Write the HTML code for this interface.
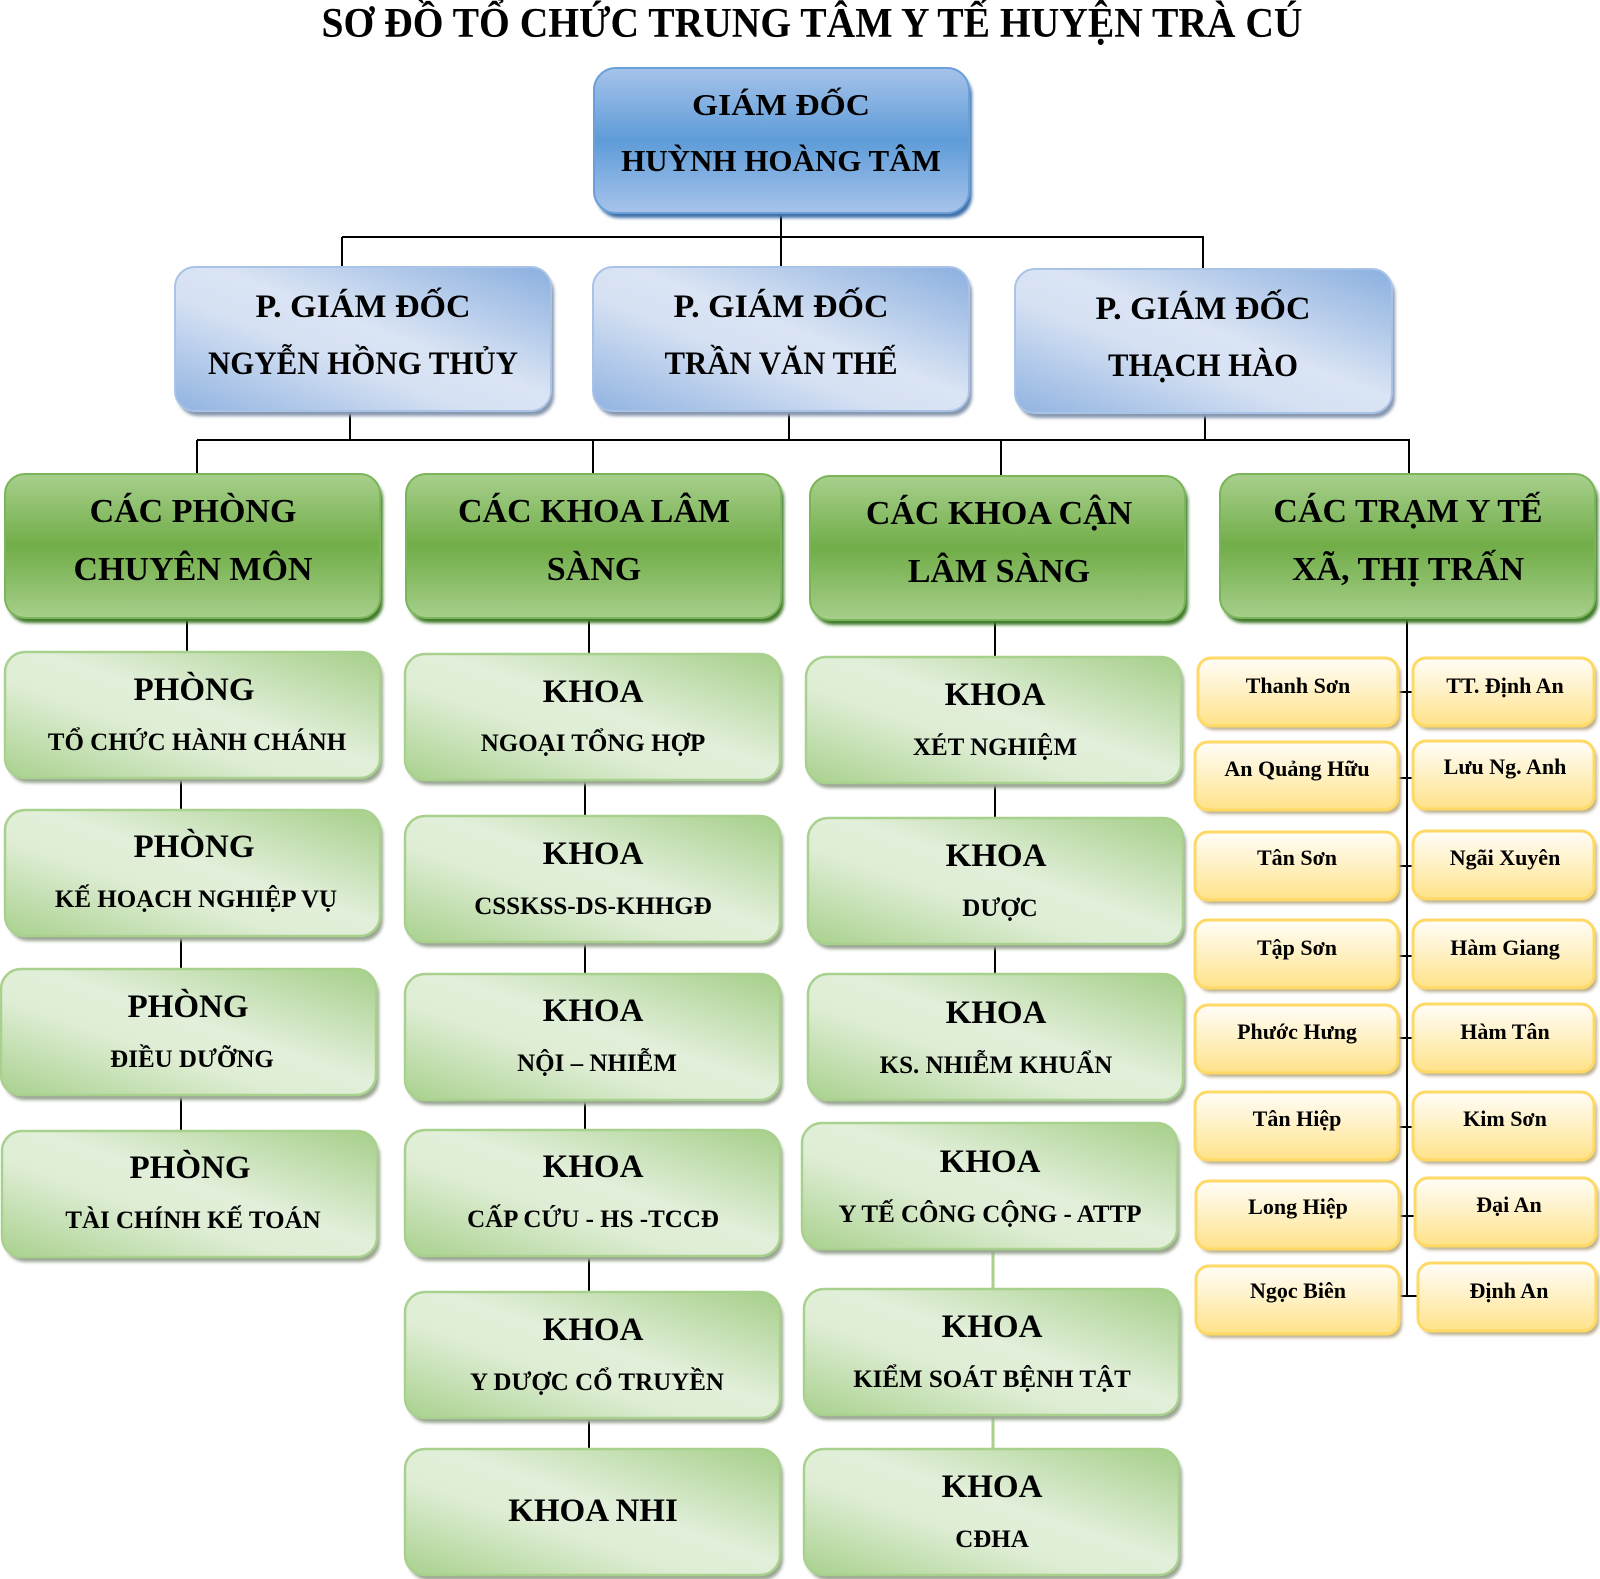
<!DOCTYPE html>
<html>
<head>
<meta charset="utf-8">
<style>
html,body{margin:0;padding:0;background:#fff;}
svg{display:block;}
text{font-family:"Liberation Serif","Times New Roman",serif;font-weight:bold;fill:#000;text-anchor:middle;}
</style>
</head>
<body>
<svg width="1600" height="1579" viewBox="0 0 1600 1579" xmlns="http://www.w3.org/2000/svg">
<defs>
  <linearGradient id="gBlue" x1="0" y1="0" x2="0" y2="1">
    <stop offset="0" stop-color="#a6c3ea"/>
    <stop offset="0.5" stop-color="#5e9cd8"/>
    <stop offset="1" stop-color="#a7c3ea"/>
  </linearGradient>
  <linearGradient id="gPGD" x1="1" y1="0" x2="0" y2="1">
    <stop offset="0" stop-color="#8aafdf"/>
    <stop offset="0.45" stop-color="#dae4f4"/>
    <stop offset="0.6" stop-color="#d6e1f3"/>
    <stop offset="1" stop-color="#90b3e1"/>
  </linearGradient>
  <linearGradient id="gGH" x1="0" y1="0" x2="0" y2="1">
    <stop offset="0" stop-color="#a8d08d"/>
    <stop offset="0.5" stop-color="#71ad48"/>
    <stop offset="1" stop-color="#a6cf8b"/>
  </linearGradient>
  <linearGradient id="gGL" x1="1" y1="0" x2="0" y2="1">
    <stop offset="0" stop-color="#a6cf8a"/>
    <stop offset="0.45" stop-color="#e2efda"/>
    <stop offset="0.62" stop-color="#deedd4"/>
    <stop offset="1" stop-color="#a9d18e"/>
  </linearGradient>
  <linearGradient id="gY" x1="0" y1="0" x2="0" y2="1">
    <stop offset="0" stop-color="#fffdf8"/>
    <stop offset="0.45" stop-color="#fff2c9"/>
    <stop offset="1" stop-color="#ffe288"/>
  </linearGradient>
  <filter id="blur" x="-5%" y="-5%" width="110%" height="115%">
    <feGaussianBlur stdDeviation="1.5"/>
  </filter>
</defs>

<!-- Title -->
<text x="812" y="37" font-size="42" textLength="981" lengthAdjust="spacingAndGlyphs">SƠ ĐỒ TỔ CHỨC TRUNG TÂM Y TẾ HUYỆN TRÀ CÚ</text>

<!-- Connectors -->
<g stroke="#000" stroke-width="2" fill="none">
  <line x1="781" y1="210" x2="781" y2="237"/>
  <line x1="342" y1="237" x2="1204" y2="237"/>
  <line x1="342" y1="237" x2="342" y2="268"/>
  <line x1="781" y1="237" x2="781" y2="268"/>
  <line x1="1203" y1="237" x2="1203" y2="270"/>
  <line x1="350" y1="410" x2="350" y2="440"/>
  <line x1="789" y1="410" x2="789" y2="440"/>
  <line x1="1205" y1="412" x2="1205" y2="440"/>
  <line x1="197" y1="440" x2="1410" y2="440"/>
  <line x1="197" y1="440" x2="197" y2="475"/>
  <line x1="593" y1="440" x2="593" y2="475"/>
  <line x1="1001" y1="440" x2="1001" y2="477"/>
  <line x1="1409" y1="440" x2="1409" y2="475"/>
  <!-- col1 -->
  <line x1="187" y1="618" x2="187" y2="653"/>
  <line x1="181" y1="778" x2="181" y2="811"/>
  <line x1="181" y1="936" x2="181" y2="970"/>
  <line x1="181" y1="1095" x2="181" y2="1132"/>
  <!-- col2 -->
  <line x1="589" y1="618" x2="589" y2="655"/>
  <line x1="585" y1="780" x2="585" y2="817"/>
  <line x1="585" y1="942" x2="585" y2="975"/>
  <line x1="585" y1="1100" x2="585" y2="1131"/>
  <line x1="589" y1="1256" x2="589" y2="1293"/>
  <line x1="589" y1="1418" x2="589" y2="1450"/>
  <!-- col3 -->
  <line x1="995" y1="620" x2="995" y2="658"/>
  <line x1="995" y1="783" x2="995" y2="819"/>
  <line x1="995" y1="944" x2="995" y2="975"/>
  <!-- col4 -->
  <line x1="1407" y1="618" x2="1407" y2="1297"/>
  <line x1="1398" y1="692" x2="1417" y2="692"/>
  <line x1="1398" y1="778" x2="1417" y2="778"/>
  <line x1="1398" y1="866" x2="1417" y2="866"/>
  <line x1="1398" y1="956" x2="1417" y2="956"/>
  <line x1="1398" y1="1038" x2="1417" y2="1038"/>
  <line x1="1398" y1="1127" x2="1417" y2="1127"/>
  <line x1="1398" y1="1216" x2="1417" y2="1216"/>
  <line x1="1398" y1="1296" x2="1419" y2="1296"/>
</g>
<g stroke="#a9d18e" stroke-width="3">
  <line x1="993" y1="1249" x2="993" y2="1290"/>
  <line x1="993" y1="1415" x2="993" y2="1450"/>
</g>

<!-- Director -->
<rect x="597" y="73" width="375" height="145" rx="22" fill="#3e6fa7" filter="url(#blur)"/>
<rect x="594" y="68" width="375" height="145" rx="22" fill="url(#gBlue)" stroke="#6aa0d9" stroke-width="2"/>
<text x="781" y="115" font-size="31" textLength="178" lengthAdjust="spacingAndGlyphs">GIÁM ĐỐC</text>
<text x="781" y="171" font-size="31">HUỲNH HOÀNG TÂM</text>

<!-- Deputy directors -->
<g>
  <rect x="178" y="272" width="376" height="144" rx="20" fill="#8796ad" filter="url(#blur)"/>
  <rect x="175" y="267" width="376" height="144" rx="20" fill="url(#gPGD)" stroke="#a9c3e7" stroke-width="2"/>
  <text x="363" y="317" font-size="33" textLength="215" lengthAdjust="spacingAndGlyphs">P. GIÁM ĐỐC</text>
  <text x="363" y="374" font-size="33" textLength="310" lengthAdjust="spacingAndGlyphs">NGYỄN HỒNG THỦY</text>

  <rect x="596" y="272" width="376" height="144" rx="20" fill="#8796ad" filter="url(#blur)"/>
  <rect x="593" y="267" width="376" height="144" rx="20" fill="url(#gPGD)" stroke="#a9c3e7" stroke-width="2"/>
  <text x="781" y="317" font-size="33" textLength="215" lengthAdjust="spacingAndGlyphs">P. GIÁM ĐỐC</text>
  <text x="781" y="374" font-size="33" textLength="233" lengthAdjust="spacingAndGlyphs">TRẦN VĂN THẾ</text>

  <rect x="1018" y="274" width="377" height="144" rx="20" fill="#8796ad" filter="url(#blur)"/>
  <rect x="1015" y="269" width="377" height="144" rx="20" fill="url(#gPGD)" stroke="#a9c3e7" stroke-width="2"/>
  <text x="1203" y="319" font-size="33" textLength="215" lengthAdjust="spacingAndGlyphs">P. GIÁM ĐỐC</text>
  <text x="1203" y="376" font-size="33" textLength="190" lengthAdjust="spacingAndGlyphs">THẠCH HÀO</text>
</g>

<!-- Green headers -->
<g>
  <rect x="8" y="479" width="375" height="144" rx="20" fill="#3f7a2a" filter="url(#blur)"/>
  <rect x="5" y="474" width="375" height="144" rx="20" fill="url(#gGH)" stroke="#7ab559" stroke-width="2"/>
  <text x="193" y="522" font-size="34">CÁC PHÒNG</text>
  <text x="193" y="580" font-size="34">CHUYÊN MÔN</text>

  <rect x="409" y="479" width="375" height="144" rx="20" fill="#3f7a2a" filter="url(#blur)"/>
  <rect x="406" y="474" width="375" height="144" rx="20" fill="url(#gGH)" stroke="#7ab559" stroke-width="2"/>
  <text x="594" y="522" font-size="34">CÁC KHOA LÂM</text>
  <text x="594" y="580" font-size="34">SÀNG</text>

  <rect x="813" y="481" width="375" height="144" rx="20" fill="#3f7a2a" filter="url(#blur)"/>
  <rect x="810" y="476" width="375" height="144" rx="20" fill="url(#gGH)" stroke="#7ab559" stroke-width="2"/>
  <text x="999" y="524" font-size="34">CÁC KHOA CẬN</text>
  <text x="999" y="582" font-size="34">LÂM SÀNG</text>

  <rect x="1223" y="479" width="375" height="144" rx="20" fill="#3f7a2a" filter="url(#blur)"/>
  <rect x="1220" y="474" width="375" height="144" rx="20" fill="url(#gGH)" stroke="#7ab559" stroke-width="2"/>
  <text x="1408" y="522" font-size="34">CÁC TRẠM Y TẾ</text>
  <text x="1408" y="580" font-size="34">XÃ, THỊ TRẤN</text>
</g>

<!-- Column 1 -->
<g>
  <rect x="8" y="657" width="375" height="126" rx="20" fill="#9aa593" filter="url(#blur)"/>
  <rect x="5" y="652" width="375" height="126" rx="20" fill="url(#gGL)" stroke="#a9d18e" stroke-width="2.5"/>
  <text x="194" y="700" font-size="33">PHÒNG</text>
  <text x="197" y="750" font-size="25">TỔ CHỨC HÀNH CHÁNH</text>

  <rect x="8" y="815" width="375" height="126" rx="20" fill="#9aa593" filter="url(#blur)"/>
  <rect x="5" y="810" width="375" height="126" rx="20" fill="url(#gGL)" stroke="#a9d18e" stroke-width="2.5"/>
  <text x="194" y="857" font-size="33">PHÒNG</text>
  <text x="196" y="907" font-size="25">KẾ HOẠCH NGHIỆP VỤ</text>

  <rect x="4" y="974" width="375" height="126" rx="20" fill="#9aa593" filter="url(#blur)"/>
  <rect x="1" y="969" width="375" height="126" rx="20" fill="url(#gGL)" stroke="#a9d18e" stroke-width="2.5"/>
  <text x="188" y="1017" font-size="33">PHÒNG</text>
  <text x="192" y="1067" font-size="25">ĐIỀU DƯỠNG</text>

  <rect x="5" y="1136" width="375" height="126" rx="20" fill="#9aa593" filter="url(#blur)"/>
  <rect x="2" y="1131" width="375" height="126" rx="20" fill="url(#gGL)" stroke="#a9d18e" stroke-width="2.5"/>
  <text x="190" y="1178" font-size="33">PHÒNG</text>
  <text x="193" y="1228" font-size="25">TÀI CHÍNH KẾ TOÁN</text>
</g>

<!-- Column 2 -->
<g>
  <rect x="408" y="659" width="375" height="126" rx="20" fill="#9aa593" filter="url(#blur)"/>
  <rect x="405" y="654" width="375" height="126" rx="20" fill="url(#gGL)" stroke="#a9d18e" stroke-width="2.5"/>
  <text x="593" y="702" font-size="33">KHOA</text>
  <text x="593" y="751" font-size="25">NGOẠI TỔNG HỢP</text>

  <rect x="408" y="821" width="375" height="126" rx="20" fill="#9aa593" filter="url(#blur)"/>
  <rect x="405" y="816" width="375" height="126" rx="20" fill="url(#gGL)" stroke="#a9d18e" stroke-width="2.5"/>
  <text x="593" y="864" font-size="33">KHOA</text>
  <text x="593" y="914" font-size="25">CSSKSS-DS-KHHGĐ</text>

  <rect x="408" y="979" width="375" height="126" rx="20" fill="#9aa593" filter="url(#blur)"/>
  <rect x="405" y="974" width="375" height="126" rx="20" fill="url(#gGL)" stroke="#a9d18e" stroke-width="2.5"/>
  <text x="593" y="1021" font-size="33">KHOA</text>
  <text x="597" y="1071" font-size="25">NỘI – NHIỄM</text>

  <rect x="408" y="1135" width="375" height="126" rx="20" fill="#9aa593" filter="url(#blur)"/>
  <rect x="405" y="1130" width="375" height="126" rx="20" fill="url(#gGL)" stroke="#a9d18e" stroke-width="2.5"/>
  <text x="593" y="1177" font-size="33">KHOA</text>
  <text x="593" y="1227" font-size="25">CẤP CỨU - HS -TCCĐ</text>

  <rect x="408" y="1297" width="375" height="126" rx="20" fill="#9aa593" filter="url(#blur)"/>
  <rect x="405" y="1292" width="375" height="126" rx="20" fill="url(#gGL)" stroke="#a9d18e" stroke-width="2.5"/>
  <text x="593" y="1340" font-size="33">KHOA</text>
  <text x="597" y="1390" font-size="25">Y DƯỢC CỔ TRUYỀN</text>

  <rect x="408" y="1454" width="375" height="126" rx="20" fill="#9aa593" filter="url(#blur)"/>
  <rect x="405" y="1449" width="375" height="126" rx="20" fill="url(#gGL)" stroke="#a9d18e" stroke-width="2.5"/>
  <text x="593" y="1521" font-size="33">KHOA NHI</text>
</g>

<!-- Column 3 -->
<g>
  <rect x="809" y="662" width="375" height="126" rx="20" fill="#9aa593" filter="url(#blur)"/>
  <rect x="806" y="657" width="375" height="126" rx="20" fill="url(#gGL)" stroke="#a9d18e" stroke-width="2.5"/>
  <text x="995" y="705" font-size="33">KHOA</text>
  <text x="995" y="755" font-size="25">XÉT NGHIỆM</text>

  <rect x="811" y="823" width="375" height="126" rx="20" fill="#9aa593" filter="url(#blur)"/>
  <rect x="808" y="818" width="375" height="126" rx="20" fill="url(#gGL)" stroke="#a9d18e" stroke-width="2.5"/>
  <text x="996" y="866" font-size="33">KHOA</text>
  <text x="1000" y="916" font-size="25">DƯỢC</text>

  <rect x="811" y="979" width="375" height="126" rx="20" fill="#9aa593" filter="url(#blur)"/>
  <rect x="808" y="974" width="375" height="126" rx="20" fill="url(#gGL)" stroke="#a9d18e" stroke-width="2.5"/>
  <text x="996" y="1023" font-size="33">KHOA</text>
  <text x="996" y="1073" font-size="25">KS. NHIỄM KHUẨN</text>

  <rect x="805" y="1128" width="375" height="126" rx="20" fill="#9aa593" filter="url(#blur)"/>
  <rect x="802" y="1123" width="375" height="126" rx="20" fill="url(#gGL)" stroke="#a9d18e" stroke-width="2.5"/>
  <text x="990" y="1172" font-size="33">KHOA</text>
  <text x="990" y="1222" font-size="25">Y TẾ CÔNG CỘNG - ATTP</text>

  <rect x="807" y="1294" width="375" height="126" rx="20" fill="#9aa593" filter="url(#blur)"/>
  <rect x="804" y="1289" width="375" height="126" rx="20" fill="url(#gGL)" stroke="#a9d18e" stroke-width="2.5"/>
  <text x="992" y="1337" font-size="33">KHOA</text>
  <text x="992" y="1387" font-size="25">KIỂM SOÁT BỆNH TẬT</text>

  <rect x="807" y="1454" width="375" height="126" rx="20" fill="#9aa593" filter="url(#blur)"/>
  <rect x="804" y="1449" width="375" height="126" rx="20" fill="url(#gGL)" stroke="#a9d18e" stroke-width="2.5"/>
  <text x="992" y="1497" font-size="33">KHOA</text>
  <text x="992" y="1547" font-size="25">CĐHA</text>
</g>

<!-- Column 4: communes -->
<g>
  <!-- left -->
  <rect x="1201" y="662" width="200" height="68" rx="13" fill="#b9ae90" filter="url(#blur)"/>
  <rect x="1198" y="658" width="200" height="68" rx="13" fill="url(#gY)" stroke="#ffd966" stroke-width="3"/>
  <text x="1298" y="693" font-size="22">Thanh Sơn</text>

  <rect x="1198" y="746" width="203" height="68" rx="13" fill="#b9ae90" filter="url(#blur)"/>
  <rect x="1195" y="742" width="203" height="68" rx="13" fill="url(#gY)" stroke="#ffd966" stroke-width="3"/>
  <text x="1297" y="776" font-size="22">An Quảng Hữu</text>

  <rect x="1198" y="836" width="203" height="68" rx="13" fill="#b9ae90" filter="url(#blur)"/>
  <rect x="1195" y="832" width="203" height="68" rx="13" fill="url(#gY)" stroke="#ffd966" stroke-width="3"/>
  <text x="1297" y="865" font-size="22">Tân Sơn</text>

  <rect x="1198" y="924" width="203" height="68" rx="13" fill="#b9ae90" filter="url(#blur)"/>
  <rect x="1195" y="920" width="203" height="68" rx="13" fill="url(#gY)" stroke="#ffd966" stroke-width="3"/>
  <text x="1297" y="955" font-size="22">Tập Sơn</text>

  <rect x="1198" y="1009" width="203" height="68" rx="13" fill="#b9ae90" filter="url(#blur)"/>
  <rect x="1195" y="1005" width="203" height="68" rx="13" fill="url(#gY)" stroke="#ffd966" stroke-width="3"/>
  <text x="1297" y="1039" font-size="22">Phước Hưng</text>

  <rect x="1198" y="1096" width="203" height="68" rx="13" fill="#b9ae90" filter="url(#blur)"/>
  <rect x="1195" y="1092" width="203" height="68" rx="13" fill="url(#gY)" stroke="#ffd966" stroke-width="3"/>
  <text x="1297" y="1126" font-size="22">Tân Hiệp</text>

  <rect x="1199" y="1185" width="203" height="68" rx="13" fill="#b9ae90" filter="url(#blur)"/>
  <rect x="1196" y="1181" width="203" height="68" rx="13" fill="url(#gY)" stroke="#ffd966" stroke-width="3"/>
  <text x="1298" y="1214" font-size="22">Long Hiệp</text>

  <rect x="1199" y="1270" width="203" height="68" rx="13" fill="#b9ae90" filter="url(#blur)"/>
  <rect x="1196" y="1266" width="203" height="68" rx="13" fill="url(#gY)" stroke="#ffd966" stroke-width="3"/>
  <text x="1298" y="1298" font-size="22">Ngọc Biên</text>

  <!-- right -->
  <rect x="1416" y="662" width="181" height="68" rx="13" fill="#b9ae90" filter="url(#blur)"/>
  <rect x="1413" y="658" width="181" height="68" rx="13" fill="url(#gY)" stroke="#ffd966" stroke-width="3"/>
  <text x="1505" y="693" font-size="22">TT. Định An</text>

  <rect x="1416" y="745" width="181" height="68" rx="13" fill="#b9ae90" filter="url(#blur)"/>
  <rect x="1413" y="741" width="181" height="68" rx="13" fill="url(#gY)" stroke="#ffd966" stroke-width="3"/>
  <text x="1505" y="774" font-size="22">Lưu Ng. Anh</text>

  <rect x="1416" y="835" width="181" height="68" rx="13" fill="#b9ae90" filter="url(#blur)"/>
  <rect x="1413" y="831" width="181" height="68" rx="13" fill="url(#gY)" stroke="#ffd966" stroke-width="3"/>
  <text x="1505" y="865" font-size="22">Ngãi Xuyên</text>

  <rect x="1416" y="924" width="181" height="68" rx="13" fill="#b9ae90" filter="url(#blur)"/>
  <rect x="1413" y="920" width="181" height="68" rx="13" fill="url(#gY)" stroke="#ffd966" stroke-width="3"/>
  <text x="1505" y="955" font-size="22">Hàm Giang</text>

  <rect x="1416" y="1008" width="181" height="68" rx="13" fill="#b9ae90" filter="url(#blur)"/>
  <rect x="1413" y="1004" width="181" height="68" rx="13" fill="url(#gY)" stroke="#ffd966" stroke-width="3"/>
  <text x="1505" y="1039" font-size="22">Hàm Tân</text>

  <rect x="1416" y="1096" width="181" height="68" rx="13" fill="#b9ae90" filter="url(#blur)"/>
  <rect x="1413" y="1092" width="181" height="68" rx="13" fill="url(#gY)" stroke="#ffd966" stroke-width="3"/>
  <text x="1505" y="1126" font-size="22">Kim Sơn</text>

  <rect x="1418" y="1182" width="181" height="68" rx="13" fill="#b9ae90" filter="url(#blur)"/>
  <rect x="1415" y="1178" width="181" height="68" rx="13" fill="url(#gY)" stroke="#ffd966" stroke-width="3"/>
  <text x="1509" y="1212" font-size="22">Đại An</text>

  <rect x="1421" y="1267" width="178" height="68" rx="13" fill="#b9ae90" filter="url(#blur)"/>
  <rect x="1418" y="1263" width="178" height="68" rx="13" fill="url(#gY)" stroke="#ffd966" stroke-width="3"/>
  <text x="1509" y="1298" font-size="22">Định An</text>
</g>
</svg>
</body>
</html>
